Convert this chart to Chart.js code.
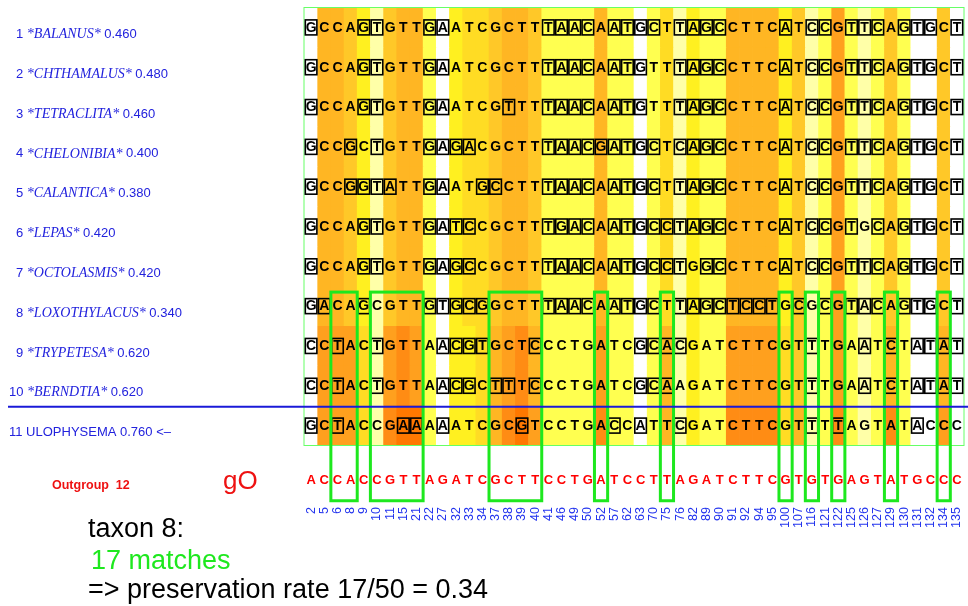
<!DOCTYPE html>
<html>
<head>
<meta charset="utf-8">
<script src="https://cdn.jsdelivr.net/npm/chart.js@4.4.0/dist/chart.umd.min.js"></script>
<style>
  body { margin: 0; background: #fff; }
  canvas { display: block; }
</style>
</head>
<body>
<canvas id="chart" width="968" height="606"></canvas>
<script>
// Alignment column positions (site numbers in the full sequence)
const positions = ['2','5','6','8','9','10','11','15','21','22','27','32','33','34','37','38','39','40','41','46',
  '49','50','52','57','62','63','70','75','76','82','89','90','91','92','94','95','100','107','116','121',
  '122','125','126','127','129','130','131','132','134','135'];

// Taxa and their preservation scores
const taxa = ['BALANUS','CHTHAMALUS','TETRACLITA','CHELONIBIA','CALANTICA','LEPAS','OCTOLASMIS',
  'LOXOTHYLACUS','TRYPETESA','BERNDTIA','ULOPHYSEMA'];
const scores = ['0.460','0.480','0.460','0.400','0.380','0.420','0.420','0.340','0.620','0.620','0.760'];

// Aligned sites per taxon
const seqs = [
  'GCCAGTGTTGAATCGCTTTAACAATGCTTAGCCTTCATCCGTTCAGTGCT',
  'GCCAGTGTTGAATCGCTTTAACAATGTTTAGCCTTCATCCGTTCAGTGCT',
  'GCCAGTGTTGAATCGTTTTAACAATGTTTAGCCTTCATCCGTTCAGTGCT',
  'GCCGCTGTTGAGACGCTTTAACGATGCTCAGCCTTCATCCGTTCAGTGCT',
  'GCCGGTATTGAATGCCTTTAACAATGCTTAGCCTTCATCCGTTCAGTGCT',
  'GCCAGTGTTGATCCGCTTTGACAATGCCTAGCCTTCATCCGTGCAGTGCT',
  'GCCAGTGTTGAGCCGCTTTAACAATGCCTGGCCTTCATCCGTTCAGTGCT',
  'GACAGCGTTGTGCGGCTTTAACAATGCTTAGCTCCTGCGCGTACAGTGCT',
  'CCTACTGTTAACGTGCTCCCTGATCGCACGATCTTCGTTTGAATCTATAT',
  'CCTACTGTTAACGCTTTCCCTGATCGCAAGATCTTCGTTTGAATCTATAT',
  'GCTACCGAAAAATCGCGTCCTGACCATTCGATCTTCGTTTTAGTATACCC'
];
const outgroup = 'ACCACCGTTAGATCGCTTCCTGATCCTTAGATCTTCGTGTGAGTATGCCC';
const focusTaxon = 7; // taxon 8

// Shading level per column (0 = white ... 9 = deep orange)
const levelsTop = [0,6,6,5,3,1,5,6,6,2, 0,3,4,4,5,6,6,5,2,2, 2,2,6,2,2,0,2,4,1,3,
                   2,2,6,6,6,6,3,5,1,2, 7,2,1,2,5,2,0,0,5,0]; // taxa 1-8
const levelsMid = [0,7,7,7,4,1,7,8,7,2, 0,3,3,4,6,7,8,6,2,2, 2,2,7,2,2,0,2,6,1,3,
                   2,2,7,7,7,7,4,5,1,2, 7,2,1,2,6,2,0,0,6,0]; // taxa 9-10
const levelsLow = [0,7,7,7,4,1,8,9,9,2, 0,3,3,4,6,8,9,7,2,2, 2,2,8,2,2,0,2,6,1,3,
                   2,2,8,8,8,8,4,6,1,2, 8,2,1,2,8,2,0,0,7,0]; // taxon 11
const rowLevels = [levelsTop, levelsTop, levelsTop, levelsTop, levelsTop, levelsTop, levelsTop, levelsTop,
                   levelsMid, levelsMid, levelsLow];

const shade = ['#ffffff','#ffffa8','#ffff50','#fff020','#ffdc24','#ffc828','#ffb623','#ffa01e','#ff8c14','#ff7800'];

// Rows in y-scale units (row r spans r..r+1)
const OUT_ROW = 11.88;
const LABEL_ROW = 12.56;
const BOX_TOP = 7.16;
const BOX_BOTTOM = 12.4;

const SANS = '"Liberation Sans", Arial, sans-serif';

// Draw letters, boxes, labels and notes on top of the shaded cells
const overlay = {
  id: 'overlay',
  afterDatasetsDraw(chart) {
    const { ctx, chartArea: a, scales: { x, y } } = chart;
    const colW = x.getPixelForValue(1) - x.getPixelForValue(0);
    ctx.save();

    // thin frame around the alignment
    ctx.strokeStyle = '#66ff66';
    ctx.lineWidth = 1;
    ctx.strokeRect(a.left - 0.5, a.top + 0.5, a.right - a.left + 1, a.bottom - a.top);

    // taxon letters, boxed where they differ from the outgroup
    ctx.textAlign = 'center';
    ctx.textBaseline = 'middle';
    ctx.font = 'bold 14px ' + SANS;
    seqs.forEach((s, r) => {
      const yc = y.getPixelForValue(r + 0.5);
      for (let c = 0; c < s.length; c++) {
        const xc = x.getPixelForValue(c);
        ctx.fillStyle = '#000';
        ctx.fillText(s[c], xc, yc + 1);
        if (s[c] !== outgroup[c]) {
          ctx.strokeStyle = '#000';
          ctx.lineWidth = 1.6;
          ctx.strokeRect(xc - colW / 2 + 0.8, yc - 7, colW - 1.6, 15);
        }
      }
    });

    // outgroup row
    ctx.font = 'bold 13px ' + SANS;
    ctx.fillStyle = '#ff0000';
    const yo = y.getPixelForValue(OUT_ROW);
    for (let c = 0; c < outgroup.length; c++) {
      ctx.fillText(outgroup[c], x.getPixelForValue(c), yo);
    }

    // green boxes around runs where taxon 8 matches the outgroup
    ctx.strokeStyle = '#1ee81e';
    ctx.lineWidth = 3;
    const focus = seqs[focusTaxon];
    let c = 0;
    while (c < focus.length) {
      if (focus[c] === outgroup[c]) {
        let e = c;
        while (e + 1 < focus.length && focus[e + 1] === outgroup[e + 1]) e++;
        const x0 = x.getPixelForValue(c) - colW / 2;
        const x1 = x.getPixelForValue(e) + colW / 2;
        const y0 = y.getPixelForValue(BOX_TOP);
        const y1 = y.getPixelForValue(BOX_BOTTOM);
        ctx.strokeRect(x0, y0, x1 - x0, y1 - y0);
        c = e + 1;
      } else {
        c++;
      }
    }

    // site numbers, rotated
    ctx.font = '12.5px ' + SANS;
    ctx.fillStyle = '#2233ee';
    positions.forEach((p, i) => {
      ctx.save();
      ctx.translate(x.getPixelForValue(i), y.getPixelForValue(LABEL_ROW));
      ctx.rotate(-Math.PI / 2);
      ctx.textAlign = 'right';
      ctx.textBaseline = 'middle';
      ctx.fillText(p, 0, 0);
      ctx.restore();
    });

    // taxon labels on the left
    ctx.textAlign = 'left';
    ctx.fillStyle = '#2222dd';
    taxa.forEach((name, r) => {
      const yl = y.getPixelForValue(r + 0.5) + 7.5;
      let xl = r < 9 ? 16 : 9;
      ctx.font = '13px ' + SANS;
      const num = String(r + 1) + ' ';
      ctx.fillText(num, xl, yl);
      xl += ctx.measureText(num).width;
      if (r < 10) {
        ctx.font = 'italic 14px "Liberation Serif", "Times New Roman", serif';
        const nm = '*' + name + '* ';
        ctx.fillText(nm, xl, yl);
        xl += ctx.measureText(nm).width;
        ctx.font = '13px ' + SANS;
        ctx.fillText(scores[r], xl, yl);
      } else {
        ctx.font = '13px ' + SANS;
        ctx.fillText(name + ' ' + scores[r] + ' <\u2013', xl, yl);
      }
    });

    // separator above taxon 11
    ctx.strokeStyle = '#1a1ad8';
    ctx.lineWidth = 2;
    ctx.beginPath();
    const ys = y.getPixelForValue(10) + 1.5;
    ctx.moveTo(8, ys);
    ctx.lineTo(chart.width, ys);
    ctx.stroke();

    // outgroup captions
    ctx.fillStyle = '#ee1111';
    ctx.textBaseline = 'middle';
    ctx.font = 'bold 12.5px ' + SANS;
    ctx.fillText('Outgroup  12', 52, 486);
    ctx.textBaseline = 'alphabetic';
    ctx.font = '26px ' + SANS;
    ctx.fillText('gO', 223, 489);

    // summary notes
    ctx.font = '27px ' + SANS;
    ctx.fillStyle = '#000';
    ctx.fillText('taxon 8:', 88, 537);
    ctx.fillStyle = '#1ee81e';
    ctx.fillText('17 matches', 91, 569);
    ctx.fillStyle = '#000';
    ctx.fillText('=> preservation rate 17/50 = 0.34', 88, 598);

    ctx.restore();
  }
};

const datasets = seqs.map((s, r) => ({
  label: taxa[r],
  data: rowLevels[r].map(() => [r, r + 1]),
  backgroundColor: rowLevels[r].map(l => shade[l]),
  borderWidth: 0,
  barPercentage: 1,
  categoryPercentage: 1,
  grouped: false
}));

new Chart(document.getElementById('chart'), {
  type: 'bar',
  data: { labels: positions, datasets: datasets },
  options: {
    responsive: false,
    animation: false,
    devicePixelRatio: 1,
    layout: { padding: { left: 304.5, right: 4.5, top: 7, bottom: 161 } },
    scales: {
      x: { display: false },
      y: { display: false, min: 0, max: 11, reverse: true }
    },
    plugins: {
      legend: { display: false },
      tooltip: { enabled: false }
    }
  },
  plugins: [overlay]
});
</script>
</body>
</html>
